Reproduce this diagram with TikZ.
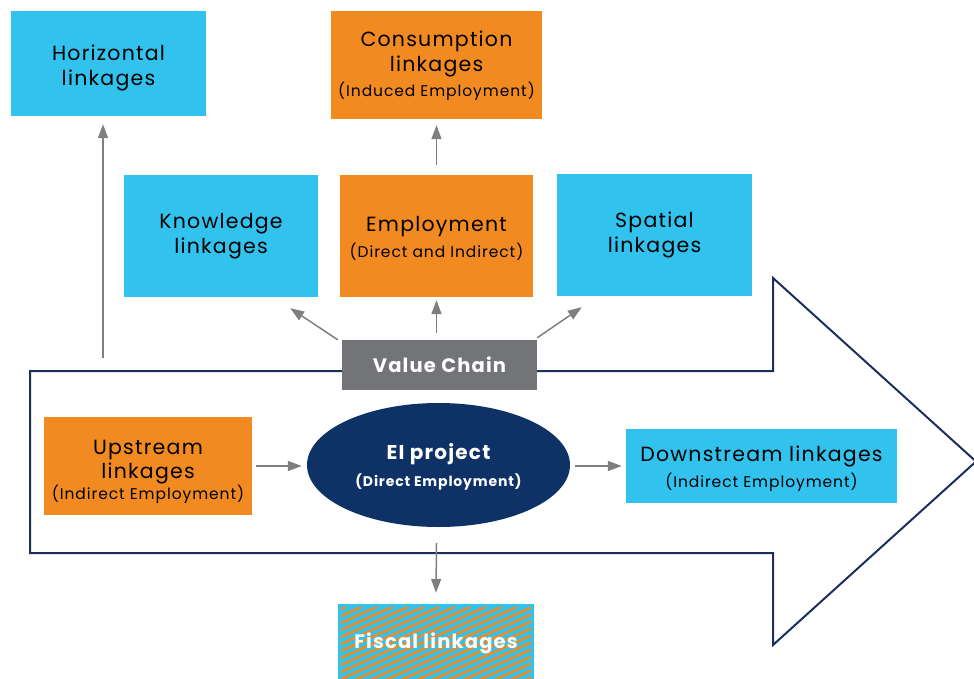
\documentclass[tikz,border=0pt]{standalone}
\usepackage{fontspec}
\setmainfont{Poppins}[LetterSpace=6]
\usetikzlibrary{shapes.geometric,arrows.meta,calc}
\definecolor{lblue}{HTML}{31C2EE}
\definecolor{lorange}{HTML}{F28A22}
\definecolor{navyfill}{HTML}{0E3166}
\definecolor{navyline}{HTML}{1C2E5E}
\definecolor{vcgrey}{HTML}{737478}
\definecolor{argrey}{HTML}{7F7F80}
\newcommand{\bigtxt}{\fontsize{20.5}{25}\selectfont}
\newcommand{\smalltxt}{\fontsize{15.5}{25}\selectfont}
\begin{document}
\begin{tikzpicture}[x=1pt,y=-1pt,
  box/.style={rectangle, inner sep=0pt, align=center, text=black, font=\bigtxt},
  bluebox/.style={box, fill=lblue},
  orangebox/.style={box, fill=lorange},
  conn/.style={draw=argrey, line width=1.5pt, -{Triangle[length=14pt,width=10pt]}, color=argrey},
  bigarrow/.style={draw=navyline, line width=2pt, line join=miter}
]
\useasboundingbox (0,0) rectangle (974,679);
% big arrow outline
\draw[bigarrow] (30,371) -- (773,371) -- (773,278) -- (976,461.5) -- (773,645) -- (773,553) -- (30,553) -- cycle;

% top row
\node[bluebox, minimum width=195pt, minimum height=105pt] (horiz) at (108.5,63.5)
  {\rule{0pt}{24pt}Horizontal\\ linkages};
\node[orangebox, minimum width=211pt, minimum height=108pt] (cons) at (436.5,65)
  {\rule{0pt}{18pt}Consumption\\ linkages\\ {\smalltxt (Induced Employment)}};
% second row
\node[bluebox, minimum width=194pt, minimum height=122pt] (know) at (221,236)
  {Knowledge\\ linkages};
\node[orangebox, minimum width=193pt, minimum height=122pt] (empl) at (436.5,236)
  {\rule{0pt}{19pt}Employment\\[1pt] {\smalltxt (Direct and Indirect)}};
\node[bluebox, minimum width=195pt, minimum height=122pt] (spat) at (654.5,235)
  {Spatial\\ linkages};
% value chain
\node[box, fill=vcgrey, text=white, minimum width=195pt, minimum height=50pt, font=\fontsize{19.5}{24}\selectfont\bfseries] (vc) at (439.5,365)
  {Value Chain};
% middle row
\node[orangebox, minimum width=208pt, minimum height=98pt] (up) at (148,466)
  {\rule{0pt}{26pt}Upstream\\[-1pt] linkages\\[-4pt] {\smalltxt (Indirect Employment)}};
\node[ellipse, fill=navyfill, inner sep=0pt, minimum width=263pt, minimum height=124pt, text=white, align=center, font=\fontsize{20}{25}\selectfont\bfseries] (ei) at (438.5,465)
  {\rule{0pt}{19pt}EI project\\[2pt] {\fontsize{14}{20}\selectfont (Direct Employment)}};
\node[bluebox, minimum width=271pt, minimum height=74pt] (down) at (761.5,466)
  {\rule{0pt}{22pt}Downstream linkages\\[1pt] {\smalltxt (Indirect Employment)}};
% fiscal
\node[box, fill=lblue, minimum width=196pt, minimum height=78pt] (fisc) at (436,643) {};
\begin{scope}
  \clip (341,607) rectangle (531,682);
  \foreach \k in {0,...,30}
    \draw[lorange, line width=2.5pt] (330,600+7*\k) -- ++(220,-99);
\end{scope}
\node[text=white, font=\fontsize{19.5}{24}\selectfont\bfseries] (fisctxt) at (fisc.center) {Fiscal linkages};

% connectors
\coordinate (hstart) at (103,358);
\draw[conn] (hstart) -- ($(horiz.south -| hstart)+(0,8)$);
\draw[conn] ($(empl.north)+(0,-10)$) -- ($(cons.south)+(0,6)$);
\draw[conn] ($(vc.north west)+(-4,0)$) -- ($(know.south east)+(-28,11)$);
\draw[conn] ($(vc.north)+(-3,-7)$) -- ($(empl.south)+(0,3)$);
\draw[conn] ($(vc.north east)+(0,-2)$) -- ($(spat.south west)+(25,11)$);
\draw[conn] ($(up.east)+(4,0)$) -- ($(ei.west)+(-5,1)$);
\draw[conn] ($(ei.east)+(5,1)$) -- ($(down.west)+(-4,0)$);
\draw[conn] ($(ei.south)+(-2,16)$) -- ($(fisc.north)+(0,-11)$);
\end{tikzpicture}
\end{document}
